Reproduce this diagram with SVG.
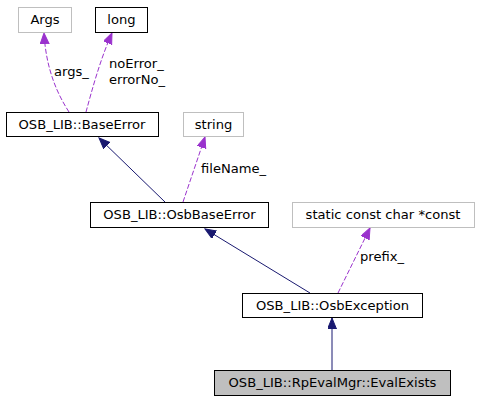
<svg xmlns="http://www.w3.org/2000/svg" width="479" height="400" viewBox="0 0 479 400">
<style>
.box{fill:#ffffff;stroke:#000000;stroke-width:1}
.ext{fill:#ffffff;stroke:#bfbfbf;stroke-width:1}
.cur{fill:#bfbfbf;stroke:#000000;stroke-width:1}
text{font-family:"DejaVu Sans","Liberation Sans",sans-serif;font-size:13.1px;fill:#000000}
.c{text-anchor:middle}
.inh{fill:none;stroke:#191970;stroke-width:1}
.use{fill:none;stroke:#9a32cd;stroke-width:1;stroke-dasharray:5,2}
</style>
<defs>
<marker id="ah-inh" markerUnits="userSpaceOnUse" markerWidth="12" markerHeight="10" refX="11" refY="4.5" orient="auto">
<path d="M0,0 L11,4.5 L0,9 Z" fill="#191970" stroke="#191970"/>
</marker>
<marker id="ah-use" markerUnits="userSpaceOnUse" markerWidth="12" markerHeight="10" refX="11" refY="4.5" orient="auto">
<path d="M0,0 L11,4.5 L0,9 Z" fill="#9a32cd" stroke="#9a32cd"/>
</marker>
</defs>
<g id="edges">
<path class="use" d="M69,112 C58,95 46,70 44,33" marker-end="url(#ah-use)"/>
<text x="54" y="76">args_</text>
<path class="use" d="M86,112 C92,90 100,60 112,33" marker-end="url(#ah-use)"/>
<text x="109" y="68">noError_</text>
<text x="109" y="84">errorNo_</text>
<path class="inh" d="M165,202 L99,138" marker-end="url(#ah-inh)"/>
<path class="use" d="M183,202 L205,137" marker-end="url(#ah-use)"/>
<text x="201" y="173">fileName_</text>
<path class="inh" d="M310,293 L205,229" marker-end="url(#ah-inh)"/>
<path class="use" d="M338,293 L370,228" marker-end="url(#ah-use)"/>
<text x="360" y="261">prefix_</text>
<path class="inh" d="M332,370 L332,318" marker-end="url(#ah-inh)"/>
</g>
<g id="node-args"><rect class="ext" x="18.5" y="7.5" width="53" height="25"/><text class="c" x="45" y="24">Args</text></g>
<g id="node-long"><rect class="box" x="95.5" y="7.5" width="52" height="25"/><text class="c" x="121.5" y="24">long</text></g>
<g id="node-baseerror"><rect class="box" x="6.5" y="112.5" width="152" height="24"/><text class="c" x="82" y="129">OSB_LIB::BaseError</text></g>
<g id="node-string"><rect class="ext" x="183.5" y="112.5" width="60" height="24"/><text class="c" x="213.5" y="129">string</text></g>
<g id="node-osbbaseerror"><rect class="box" x="90.5" y="202.5" width="178" height="25"/><text class="c" x="179.5" y="219">OSB_LIB::OsbBaseError</text></g>
<g id="node-static"><rect class="ext" x="292.5" y="202.5" width="182" height="25"/><text class="c" x="383" y="219">static const char *const</text></g>
<g id="node-osbexception"><rect class="box" x="242.5" y="293.5" width="180" height="24"/><text class="c" x="332.5" y="310">OSB_LIB::OsbException</text></g>
<g id="node-evalexists"><rect class="cur" x="214.5" y="370.5" width="236" height="25"/><text class="c" x="332.5" y="387">OSB_LIB::RpEvalMgr::EvalExists</text></g>
</svg>
